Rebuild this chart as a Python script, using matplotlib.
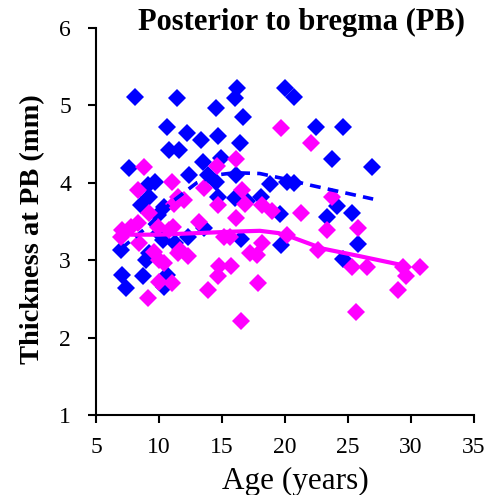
import matplotlib.pyplot as plt

# Group 1 (blue): age in years, thickness in mm
blue_age = [8.1, 11.4, 16.2, 16.0, 20.0, 20.7, 14.5, 16.7, 10.6, 12.2,
            13.3, 14.7, 16.4, 22.5, 24.6, 10.8, 11.6, 23.7, 26.9, 7.6,
            13.5, 14.9, 12.4, 16.1, 13.9, 14.5, 9.7, 9.1, 18.8, 20.2,
            20.7, 9.2, 8.6, 14.7, 16.0, 18.1, 17.0, 24.1, 25.3, 23.3,
            19.6, 10.4, 9.9, 13.6, 10.3, 12.3, 16.5, 19.7, 25.8, 7.0,
            9.0, 24.6, 7.1, 7.4, 8.7, 10.6, 10.4, 11.3, 9.2, 10.0]
blue_thick = [5.11, 5.10, 5.23, 5.10, 5.23, 5.11, 4.97, 4.85, 4.72, 4.65,
              4.55, 4.60, 4.52, 4.72, 4.72, 4.42, 4.42, 4.31, 4.21, 4.19,
              4.27, 4.32, 4.10, 4.10, 4.10, 4.01, 4.01, 3.97, 3.99, 4.01,
              4.00, 3.82, 3.71, 3.82, 3.80, 3.82, 3.76, 3.70, 3.61, 3.56,
              3.60, 3.69, 3.58, 3.41, 3.26, 3.30, 3.28, 3.20, 3.21, 3.13,
              3.00, 3.02, 2.81, 2.64, 2.80, 2.81, 2.66, 3.22, 3.09, 3.35]

# Group 2 (magenta)
pink_age = [19.7, 22.1, 16.1, 8.8, 14.6, 8.3, 11.0, 11.5, 13.6, 16.6,
            14.7, 16.8, 18.2, 19.0, 21.3, 23.7, 25.8, 23.3, 20.2, 22.6,
            25.3, 26.5, 29.4, 30.7, 29.6, 29.0, 25.6, 16.5, 17.9, 13.9,
            9.1, 16.1, 13.2, 15.2, 15.6, 18.2, 17.2, 17.8, 14.8, 15.7,
            14.7, 7.1, 7.8, 8.3, 7.0, 8.4, 9.6, 10.0, 10.4, 11.5,
            12.3, 10.0, 11.0, 10.8, 9.2, 11.2, 12.0, 11.1, 9.9, 11.7]
pink_thick = [4.71, 4.51, 4.31, 4.21, 4.22, 3.91, 4.01, 3.82, 3.93, 3.91,
              3.71, 3.73, 3.71, 3.63, 3.61, 3.82, 3.42, 3.39, 3.33, 3.13,
              2.91, 2.91, 2.91, 2.91, 2.80, 2.61, 2.33, 2.21, 2.71, 2.62,
              2.51, 3.55, 3.50, 3.30, 3.30, 3.22, 3.09, 3.07, 2.92, 2.92,
              2.79, 3.39, 3.43, 3.48, 3.30, 3.22, 3.11, 3.00, 2.96, 3.09,
              3.05, 2.72, 2.70, 3.39, 3.61, 3.73, 3.78, 3.43, 3.43, 3.13]

# Smoothed trends
blue_fit_age = [7, 9, 11, 13, 14.5, 16, 18, 20, 22, 24.5, 27]
blue_fit = [3.15, 3.42, 3.75, 4.00, 4.10, 4.13, 4.12, 4.05, 3.97, 3.88, 3.79]
pink_fit_age = [7, 10, 13, 16, 18, 19.5, 20.5, 23, 26, 29.5]
pink_fit = [3.33, 3.33, 3.35, 3.37, 3.38, 3.35, 3.30, 3.15, 3.05, 2.93]

plt.rcParams['font.family'] = ['Liberation Serif', 'DejaVu Serif']

fig = plt.figure(figsize=(4.96, 4.95), dpi=100)
ax = fig.add_axes([0.1935, 0.1616, 0.762, 0.7818])

ax.plot(blue_age, blue_thick, 'D', color='#0000FF', markersize=8.7, mew=0)
ax.plot(pink_age, pink_thick, 'D', color='#FF00FF', markersize=8.7, mew=0)
ax.plot(blue_fit_age, blue_fit, color='#0000FF', lw=2.6, ls=(0, (3, 2)))
ax.plot(pink_fit_age, pink_fit, color='#FF00FF', lw=3)

ax.set_xlim(5, 35)
ax.set_ylim(1, 6)
ax.set_xticks(range(5, 40, 5))
ax.set_yticks(range(1, 7))
for s in ['top', 'right']:
    ax.spines[s].set_visible(False)
for s in ['left', 'bottom']:
    ax.spines[s].set_linewidth(1.5)
ax.tick_params(width=1.5, length=6, labelsize=17)
ax.tick_params(axis='y', pad=12)
ax.tick_params(axis='x', pad=10)

ax.set_ylabel('Thickness at PB (mm)', fontsize=20.5, fontweight='bold')
ax.yaxis.set_label_coords(-0.135, 0.48)
fig.text(0.595, 0.012, 'Age (years)', fontsize=22.5, ha='center', va='baseline')
fig.text(0.608, 0.94, 'Posterior to bregma (PB)', fontsize=22, fontweight='bold',
         ha='center', va='baseline')

fig.savefig('out.png', dpi=100)
